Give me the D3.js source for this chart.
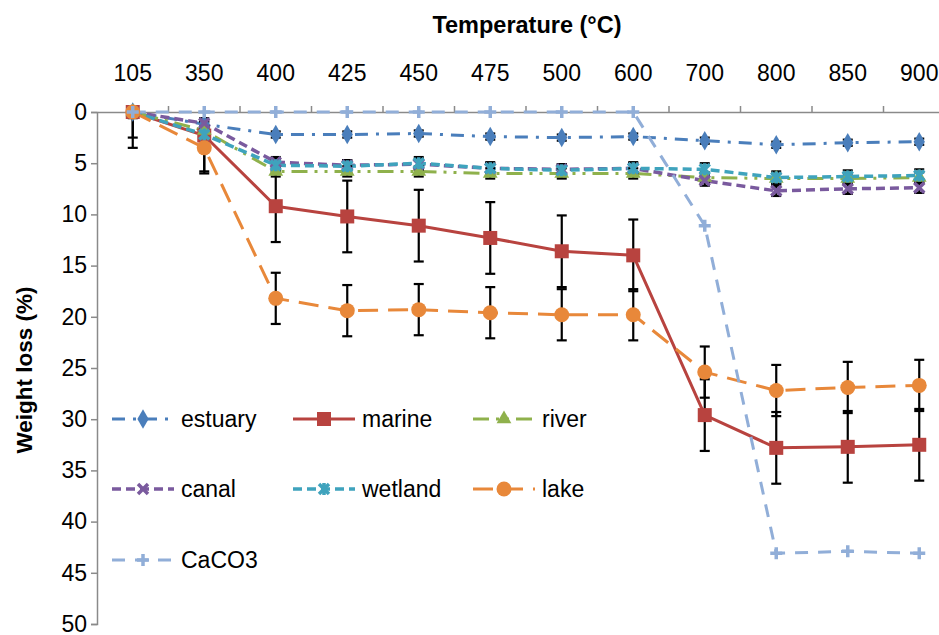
<!DOCTYPE html>
<html>
<head>
<meta charset="utf-8">
<script src="https://cdn.jsdelivr.net/npm/d3@7/dist/d3.min.js"></script>
<style>
  html, body { margin: 0; padding: 0; background: #fff; }
  svg { display: block; font-family: "Liberation Sans", Arial, Helvetica, sans-serif; }
</style>
</head>
<body>
<svg id="chart" width="939" height="635"></svg>
<script>
// Heating temperatures (°C)
const temperatures = ["105", "350", "400", "425", "450", "475", "500", "600", "700", "800", "850", "900"];

// Mean weight loss (%) per sample type
const estuary = [0, 1.2, 2.2, 2.2, 2.1, 2.4, 2.5, 2.4, 2.8, 3.2, 3.0, 2.9];
const marine  = [0, 2.3, 9.2, 10.2, 11.1, 12.3, 13.6, 14.0, 29.6, 32.8, 32.7, 32.5];
const river   = [0, 1.8, 5.8, 5.8, 5.8, 6.0, 6.0, 6.0, 6.4, 6.5, 6.5, 6.4];
const canal   = [0, 1.1, 4.9, 5.2, 5.1, 5.5, 5.6, 5.5, 6.7, 7.7, 7.5, 7.4];
const wetland = [0, 2.2, 5.2, 5.3, 5.0, 5.5, 5.7, 5.5, 5.6, 6.4, 6.3, 6.2];
const lake    = [0, 3.5, 18.2, 19.4, 19.3, 19.6, 19.8, 19.8, 25.4, 27.2, 26.9, 26.7];
const caco3   = [0, 0, 0, 0, 0, 0, 0, 0, 11.1, 43.1, 42.9, 43.1];

// Standard deviations (%)
const estuaryErr = [0, 0.3, 0.3, 0.3, 0.3, 0.3, 0.3, 0.3, 0.3, 0.3, 0.3, 0.3];
const marineErr  = [3.5, 3.5, 3.5, 3.5, 3.5, 3.5, 3.5, 3.5, 3.5, 3.5, 3.5, 3.5];
const riverErr   = [0.5, 0.5, 0.5, 0.5, 0.5, 0.5, 0.5, 0.5, 0.5, 0.5, 0.5, 0.5];
const canalErr   = [0.5, 0.5, 0.5, 0.5, 0.5, 0.5, 0.5, 0.5, 0.5, 0.5, 0.5, 0.5];
const wetlandErr = [0.6, 0.6, 0.6, 0.6, 0.6, 0.6, 0.6, 0.6, 0.6, 0.6, 0.6, 0.6];
const lakeErr    = [2.5, 2.5, 2.5, 2.5, 2.5, 2.5, 2.5, 2.5, 2.5, 2.5, 2.5, 2.5];

// Y axis ticks
const yTicks = [0, 5, 10, 15, 20, 25, 30, 35, 40, 45, 50];

const series = [
  { name: "estuary", values: estuary, err: estuaryErr, color: "#4a7ebb", dash: "13,8,3,8", width: 3, marker: "diamond" },
  { name: "marine",  values: marine,  err: marineErr,  color: "#b8433f", dash: null, width: 3, marker: "square" },
  { name: "river",   values: river,   err: riverErr,   color: "#8fb14c", dash: "16,7,3,7,3,7", width: 3, marker: "triangle" },
  { name: "canal",   values: canal,   err: canalErr,   color: "#7a5a9e", dash: "9,5", width: 3.5, marker: "x" },
  { name: "wetland", values: wetland, err: wetlandErr, color: "#3fa3bd", dash: "9,5", width: 3.5, marker: "star" },
  { name: "lake",    values: lake,    err: lakeErr,    color: "#e8883a", dash: "20,10", width: 3, marker: "circle" },
  { name: "CaCO3",   values: caco3,   err: null,       color: "#91aed8", dash: "13,10", width: 3, marker: "plus" }
];

const svg = d3.select("#chart");
const plot = { left: 97, top: 112, right: 955, bottom: 624 };
const fontSize = 23;

const x = d3.scaleBand().domain(temperatures).range([plot.left, plot.right]).padding(0);
const y = d3.scaleLinear().domain([0, 50]).range([plot.top, plot.bottom]);
const cx = t => x(t) + x.bandwidth() / 2;

svg.append("defs").append("clipPath").attr("id", "plotClip")
  .append("rect")
  .attr("x", plot.left).attr("y", plot.top)
  .attr("width", plot.right - plot.left).attr("height", plot.bottom - plot.top);

const axisColor = "#8a8a8a";

// Top category axis: labels centred in each band, ticks on band boundaries
const xAxis = svg.append("g").attr("transform", `translate(0,${plot.top})`)
  .call(d3.axisTop(x).tickSize(0).tickPadding(31));
xAxis.select(".domain").attr("stroke", axisColor).attr("stroke-width", 1.5);
xAxis.selectAll("text").attr("font-size", fontSize).attr("fill", "#000").attr("font-family", "Liberation Sans, Arial, sans-serif");
xAxis.selectAll(".boundary").data(temperatures.slice(1)).enter().append("line")
  .attr("class", "boundary")
  .attr("x1", d => x(d)).attr("x2", d => x(d))
  .attr("y1", 0).attr("y2", -6)
  .attr("stroke", axisColor).attr("stroke-width", 1.5);

// Left value axis (0 at top)
const yAxis = svg.append("g").attr("transform", `translate(${plot.left},0)`)
  .call(d3.axisLeft(y).tickValues(yTicks).tickSize(6).tickPadding(4));
yAxis.select(".domain").attr("stroke", axisColor).attr("stroke-width", 1.5);
yAxis.selectAll(".tick line").attr("stroke", axisColor).attr("stroke-width", 1.5);
yAxis.selectAll("text").attr("font-size", fontSize).attr("fill", "#000").attr("font-family", "Liberation Sans, Arial, sans-serif");

// Axis titles
svg.append("text")
  .attr("x", 527).attr("y", 33)
  .attr("text-anchor", "middle")
  .attr("font-size", fontSize + 0.5).attr("font-weight", "bold")
  .text("Temperature (°C)");

svg.append("text")
  .attr("transform", "translate(32,370) rotate(-90)")
  .attr("text-anchor", "middle")
  .attr("font-size", 22.5).attr("font-weight", "bold")
  .text("Weight loss (%)");

// Marker shapes
function drawMarker(g, s, px, py) {
  const c = s.color;
  switch (s.marker) {
    case "diamond":
      g.append("path").attr("d", d3.symbol(d3.symbolDiamond, 110)())
        .attr("transform", `translate(${px},${py})`).attr("fill", c);
      break;
    case "square":
      g.append("rect").attr("x", px - 7).attr("y", py - 7).attr("width", 14).attr("height", 14)
        .attr("fill", c);
      break;
    case "triangle":
      g.append("path").attr("d", d3.symbol(d3.symbolTriangle, 95)())
        .attr("transform", `translate(${px},${py})`).attr("fill", c);
      break;
    case "circle":
      g.append("circle").attr("cx", px).attr("cy", py).attr("r", 7.5).attr("fill", c);
      break;
    case "x":
      g.append("path").attr("d", "M-5,-5L5,5M-5,5L5,-5")
        .attr("transform", `translate(${px},${py})`)
        .attr("stroke", c).attr("stroke-width", 3.5).attr("fill", "none");
      break;
    case "star":
      g.append("path").attr("d", "M-5,-5L5,5M-5,5L5,-5M0,-6L0,6")
        .attr("transform", `translate(${px},${py})`)
        .attr("stroke", c).attr("stroke-width", 3.5).attr("fill", "none");
      break;
    case "plus":
      g.append("path").attr("d", "M-6,0L6,0M0,-6L0,6")
        .attr("transform", `translate(${px},${py})`)
        .attr("stroke", c).attr("stroke-width", 3.5).attr("fill", "none");
      break;
  }
}

const line = d3.line().x(d => cx(d.t)).y(d => y(d.v)).curve(d3.curveLinear);
const pts = s => temperatures.map((t, i) => ({ t, v: s.values[i], e: s.err ? s.err[i] : 0 }));

// Lines
const linesG = svg.append("g");
series.forEach(s => {
  linesG.append("path")
    .attr("d", line(pts(s)))
    .attr("fill", "none")
    .attr("stroke", s.color)
    .attr("stroke-width", s.width)
    .attr("stroke-dasharray", s.dash)
    .attr("stroke-linejoin", "round");
});

// Error bars (± one standard deviation)
const errG = svg.append("g").attr("clip-path", "url(#plotClip)");
series.filter(s => s.err).forEach(s => {
  pts(s).forEach(p => {
    if (!p.e) return;
    const px = cx(p.t), y0 = y(p.v - p.e), y1 = y(p.v + p.e);
    errG.append("line").attr("x1", px).attr("x2", px).attr("y1", y0).attr("y2", y1)
      .attr("stroke", "#000").attr("stroke-width", 2.2);
    [y0, y1].forEach(yy => errG.append("line")
      .attr("x1", px - 5).attr("x2", px + 5).attr("y1", yy).attr("y2", yy)
      .attr("stroke", "#000").attr("stroke-width", 2.2));
  });
});

// Markers
const markG = svg.append("g");
series.forEach(s => {
  pts(s).forEach(p => drawMarker(markG, s, cx(p.t), y(p.v)));
});

// Legend: three columns, three rows
const legendCols = [112, 293, 473];
const legendRows = [419, 489, 560];
const legendLen = 62;
const legendG = svg.append("g");
series.forEach((s, i) => {
  const lx = legendCols[i % 3], ly = legendRows[Math.floor(i / 3)];
  legendG.append("line")
    .attr("x1", lx).attr("x2", lx + legendLen).attr("y1", ly).attr("y2", ly)
    .attr("stroke", s.color).attr("stroke-width", s.width)
    .attr("stroke-dasharray", s.dash);
  drawMarker(legendG, s, lx + legendLen / 2, ly);
  legendG.append("text")
    .attr("x", lx + legendLen + 7).attr("y", ly)
    .attr("dy", "0.35em")
    .attr("font-size", fontSize)
    .text(s.name);
});
</script>
</body>
</html>
